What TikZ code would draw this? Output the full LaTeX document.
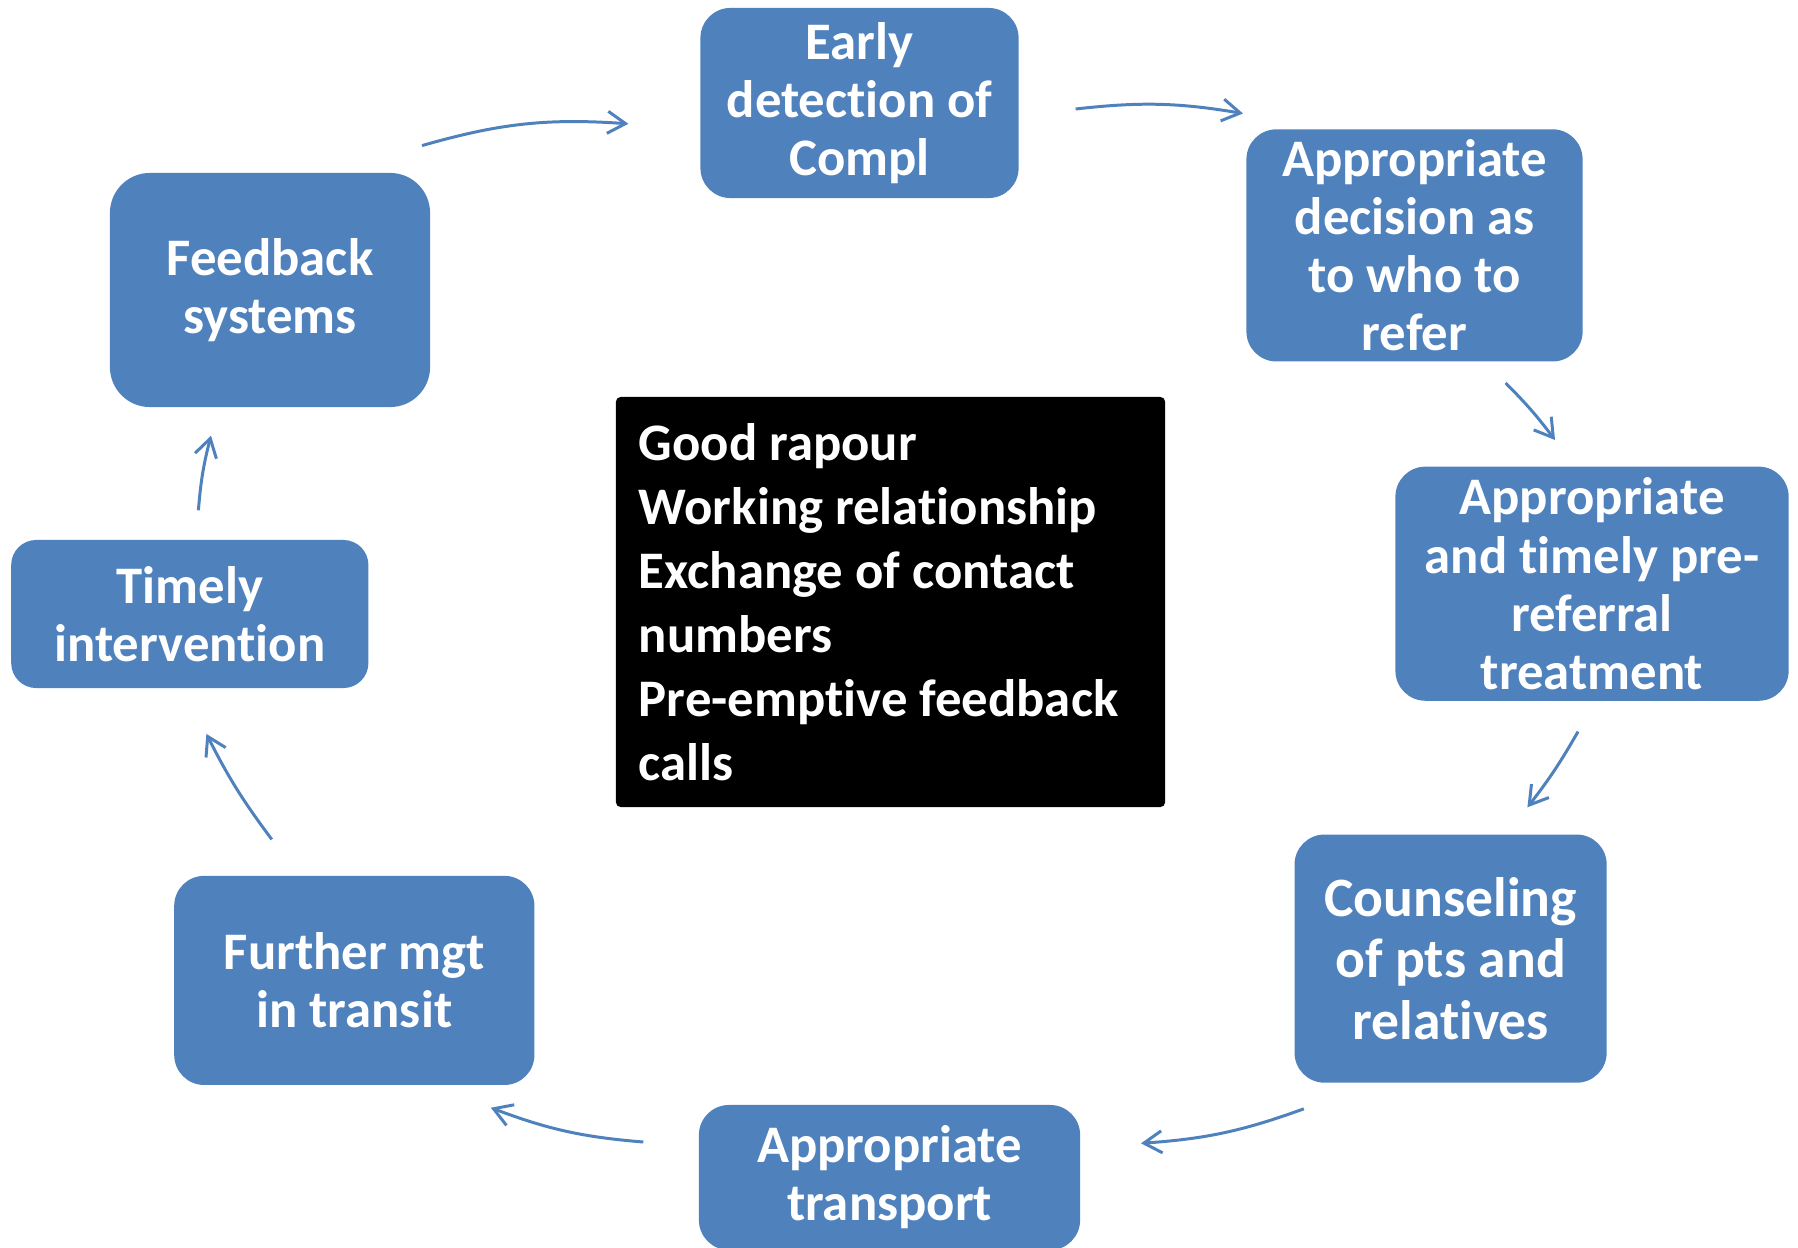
\documentclass[tikz,border=0pt]{standalone}
\usepackage{fontspec}
\setmainfont{Carlito}[Ligatures={NoCommon,NoContextual,NoRequired},Contextuals={NoAlternate}]
\usetikzlibrary{arrows.meta}
\definecolor{boxblue}{HTML}{4F81BD}
\begin{document}
\begin{tikzpicture}[x=0.01cm,y=0.01cm,
    blk/.style={rectangle,rounded corners=3mm,fill=boxblue,text=white,align=center,inner sep=0pt,
        font=\bfseries\fontsize{15}{16.5}\selectfont},
    arr/.style={-{Straight Barb[length=1.8mm,width=2.2mm]},boxblue,line width=0.85pt}]
        \useasboundingbox (0,0) rectangle (1798,1247);
        % cycle boxes
        \node[blk,minimum width=3.18cm,minimum height=1.90cm](a)at(859.5,1144){Early\\detection of\\Compl};
        \node[blk,minimum width=3.36cm,minimum height=2.32cm](b)at(1414.5,1001.6){Appropriate\\decision as\\to who to\\refer};
        \node[blk,minimum width=3.93cm,minimum height=2.34cm](c)at(1592,663.3){Appropriate\\and timely pre-\\referral\\treatment};
        \node[blk,minimum width=3.12cm,minimum height=2.48cm,font=\bfseries\fontsize{15.8}{17.4}\selectfont](d)at(1450.6,288.4){Counseling\\of pts and\\relatives};
        \node[blk,minimum width=3.81cm,minimum height=1.45cm](e)at(889.5,69.5){Appropriate\\transport};
        \node[blk,minimum width=3.60cm,minimum height=2.09cm](f)at(354.3,266.6){Further mgt\\in transit};
        \node[blk,minimum width=3.57cm,minimum height=1.48cm,rounded corners=2.5mm](g)at(189.8,633){Timely\\intervention};
        \node[blk,minimum width=3.20cm,minimum height=2.34cm,rounded corners=4mm](h)at(270,957){Feedback\\systems};
        % centre box
        \node[fill=black,text=white,rounded corners=0.5mm,align=flush left,text width=5.03cm,inner xsep=0.23cm,inner ysep=0pt,
            minimum height=4.1cm,font=\bfseries\fontsize{15}{18.2}\selectfont](m)at(890.5,645)
            {Good rapour\\Working relationship\\Exchange of contact\\numbers\\Pre-emptive feedback\\calls};
        % arrow ends
        \coordinate(h1)at(422,1101.4);  \coordinate(a0)at(628.4,1123.2);
        \coordinate(a1)at(1075.6,1138); \coordinate(b0)at(1243,1133.5);
        \coordinate(b1)at(1505.6,864);  \coordinate(c0)at(1555,807);
        \coordinate(c1)at(1578,515.4);  \coordinate(d0)at(1527.4,439.7);
        \coordinate(d1)at(1303.8,138.2);\coordinate(e0)at(1141,103.7);
        \coordinate(e1)at(643.3,105);   \coordinate(f0)at(490.8,139.3);
        \coordinate(f1)at(271.8,407.6); \coordinate(g0)at(206.4,513.1);
        \coordinate(g1)at(198.4,736.7); \coordinate(h0)at(211,811.3);
        \draw[arr](h1)to[bend left=10](a0);
        \draw[arr](a1)to[bend left=8](b0);
        \draw[arr](b1)to[bend left=4](c0);
        \draw[arr](c1)to[bend left=4](d0);
        \draw[arr](d1)to[bend left=8](e0);
        \draw[arr](e1)to[bend left=8](f0);
        \draw[arr](f1)to[bend left=5](g0);
        \draw[arr](g1)to[bend left=5](h0);
    \end{tikzpicture}
\end{document}
